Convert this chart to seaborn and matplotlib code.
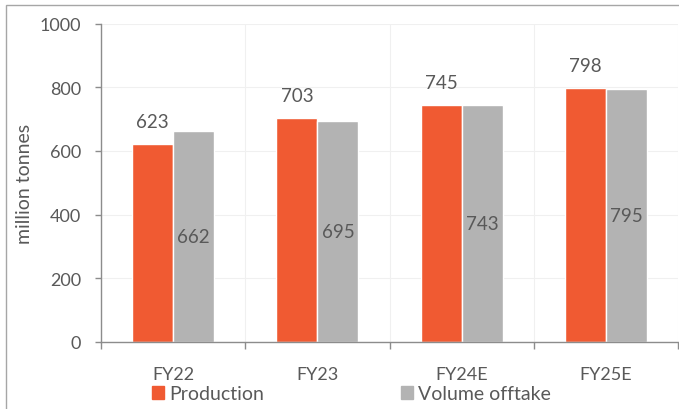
import pandas as pd
import numpy as np
import matplotlib
matplotlib.use('Agg')
import matplotlib.pyplot as plt
import matplotlib.patches as mpatches
import seaborn as sns

# Veri
years = ['FY22', 'FY23', 'FY24E', 'FY25E']
production = [623, 703, 745, 798]
volume_offtake = [662, 695, 743, 795]
series_names = ['Production', 'Volume offtake']
y_ticks = [0, 200, 400, 600, 800, 1000]

df = pd.DataFrame({
    'year': years * 2,
    'value': production + volume_offtake,
    'series': [series_names[0]] * len(years) + [series_names[1]] * len(years),
})

# Stil
sns.set_style('white')
plt.rcParams['font.family'] = ['Lato', 'DejaVu Sans']
text_col = '#595959'
colors = ['#F05A32', '#B3B3B3']

fig = plt.figure(figsize=(6.79, 4.10), dpi=100)
ax = fig.add_axes([101 / 679, 1 - 343 / 410, 577 / 679, 318.5 / 410])

sns.barplot(data=df, x='year', y='value', hue='series', palette=colors,
            width=0.57, gap=0, saturation=1, ax=ax, legend=False)

ax.set_xlim(-0.5, 3.5)
ax.set_ylim(0, 1000)
ax.set_yticks(y_ticks)
ax.set_yticklabels([str(t) for t in y_ticks])
ax.set_xticks(range(len(years)))
ax.set_xticklabels(years)
ax.set_xticks(np.arange(-0.5, len(years), 1.0), minor=True)

# Izgara
ax.grid(True, axis='y', which='major', color='#F0F0F0', linewidth=0.8)
ax.grid(True, axis='x', which='minor', color='#F0F0F0', linewidth=0.8)
ax.grid(False, axis='x', which='major')
ax.set_axisbelow(True)

for s in ['top', 'right']:
    ax.spines[s].set_visible(False)
for s in ['left', 'bottom']:
    ax.spines[s].set_color('#8C8C8C')
    ax.spines[s].set_linewidth(1)

ax.tick_params(axis='y', which='major', direction='out', length=4.3, width=1,
               color='#8C8C8C', labelsize=13, labelcolor=text_col, pad=10, left=True)
ax.tick_params(axis='x', which='major', length=0, labelsize=13,
               labelcolor=text_col, pad=17)
ax.tick_params(axis='x', which='minor', direction='out', length=5, width=1,
               color='#8C8C8C', bottom=True)

ax.set_xlabel('')
ax.set_ylabel('million tonnes', fontsize=14, color=text_col)
ax.yaxis.set_label_coords((33 - 101) / 577, 0.5)

# Değer etiketleri
ax.bar_label(ax.containers[0], labels=[str(v) for v in production],
             padding=10, fontsize=13.5, color=text_col)
ax.bar_label(ax.containers[1], labels=[str(v) for v in volume_offtake],
             label_type='center', fontsize=13.5, color=text_col)

# Lejant (iki ayrı parça, Excel düzenine göre)
for c, n, x0 in zip(colors, series_names, [152, 401]):
    leg = fig.legend(handles=[mpatches.Patch(color=c, label=n)], loc='center left',
                     frameon=False, bbox_to_anchor=(x0 / 679, 1 - 395 / 410),
                     bbox_transform=fig.transFigure, fontsize=14, labelcolor=text_col,
                     borderpad=0, borderaxespad=0, handlelength=0.62,
                     handleheight=0.62, handletextpad=0.25)

# Çerçeve
fig.patches.append(mpatches.Rectangle((6 / 679, -0.1), 1.1, 1.1 - 5.5 / 410,
                                      transform=fig.transFigure, fill=False,
                                      edgecolor='#A6A6A6', linewidth=1))

fig.savefig('out.png', dpi=100)
